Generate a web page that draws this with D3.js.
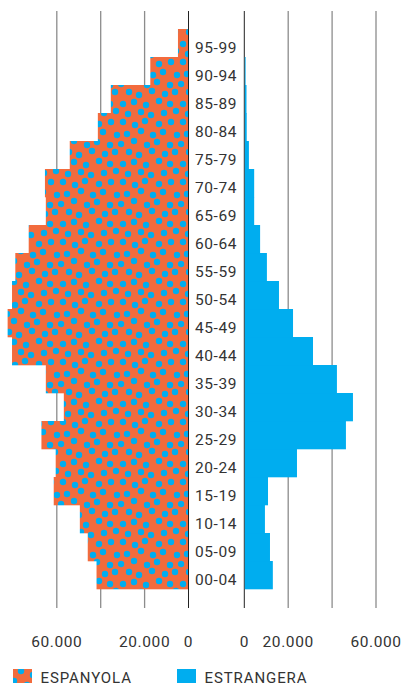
<!DOCTYPE html>
<html>
<head>
<meta charset="utf-8">
<script src="https://cdn.jsdelivr.net/npm/d3@7"></script>
<style>
html,body{margin:0;padding:0;background:#fff;}
svg{display:block;}
text{font-family:Roboto,"Noto Sans",sans-serif;fill:#333;}
</style>
</head>
<body>
<svg id="chart" width="412" height="686"></svg>
<script>
// Data
const ageGroups = ["00-04","05-09","10-14","15-19","20-24","25-29","30-34","35-39","40-44","45-49","50-54","55-59","60-64","65-69","70-74","75-79","80-84","85-89","90-94","95-99"];
const espanyola = [41900,45900,49500,61400,60500,67000,56800,65000,80400,82400,80400,78900,72800,65000,65400,54100,41300,35400,17400,4800];
const estrangera = [13000,11700,9400,10800,24000,46300,49500,42200,31300,22200,15800,10300,7200,4500,4500,2100,1100,1000,600,100];
const gridValues = [0,20000,40000,60000];
const labelValues = [0,20000,60000];
const seriesNames = ["ESPANYOLA","ESTRANGERA"];
// pattern dot offsets inside a 60x60 tile (fixed, hand-placed)
const dotPositions = [[3,2],[15,5],[25,1],[39,4],[51,2],
  [7,14],[21,11],[33,15],[43,12],[57,15],
  [1,24],[14,21],[27,25],[37,22],[50,25],
  [9,32],[19,35],[32,31],[45,34],[55,32],
  [3,44],[14,42],[26,45],[39,41],[50,44],
  [8,54],[21,52],[31,55],[44,53],[56,51]];

const orange = "#F26B3D", blue = "#00ADEF";
const svg = d3.select("#chart");
const fmt = d3.formatLocale({decimal:",",thousands:".",grouping:[3],currency:["","€"]}).format(",");

const T = 60;
const defs = svg.append("defs");
const pat = defs.append("pattern").attr("id","dots").attr("patternUnits","userSpaceOnUse")
  .attr("width",T).attr("height",T);
pat.append("rect").attr("width",T).attr("height",T).attr("fill",orange);
[[0,0],[-T,0],[T,0],[0,-T],[0,T]].forEach(o=>{
  pat.selectAll(null).data(dotPositions).join("circle")
    .attr("cx",d=>d[0]+o[0]).attr("cy",d=>d[1]+o[1]).attr("r",3.2).attr("fill",blue);
});

const y = d3.scaleBand().domain(ageGroups.slice().reverse()).range([29,589]).padding(0);
const xL = d3.scaleLinear().domain([0,60000]).range([188.5,56.8]);
const xR = d3.scaleLinear().domain([0,60000]).range([244.3,376]);
const gTop = 11, gBot = 608;

// grid lines
function grid(scale){
  svg.append("g").selectAll("line").data(gridValues).join("line")
    .attr("x1",d=>scale(d)).attr("x2",d=>scale(d))
    .attr("y1",gTop).attr("y2",gBot)
    .attr("stroke",d=>d===0?"#222":"#8c8c8c").attr("stroke-width",d=>d===0?1:1.3);
}
grid(xL); grid(xR);

// bars
svg.append("g").selectAll("rect").data(ageGroups).join("rect")
  .attr("x",(d,i)=>xL(espanyola[i])).attr("width",(d,i)=>xL(0)-xL(espanyola[i])-0.5)
  .attr("y",d=>y(d)).attr("height",y.bandwidth()+0.3)
  .attr("fill","url(#dots)");
svg.append("g").selectAll("rect").data(ageGroups).join("rect")
  .attr("x",xR(0)+0.5).attr("width",(d,i)=>Math.max(0,xR(estrangera[i])-xR(0)-0.5))
  .attr("y",d=>y(d)).attr("height",y.bandwidth()+0.3)
  .attr("fill",blue);

// age labels
svg.append("g").selectAll("text").data(ageGroups).join("text")
  .attr("x",216).attr("y",d=>y(d)+y.bandwidth()/2+9.7)
  .attr("text-anchor","middle").attr("font-size",15.5).attr("letter-spacing",0.6)
  .text(d=>d);

// tick labels
function tickLabels(scale){
  svg.append("g").selectAll("text").data(labelValues).join("text")
    .attr("x",d=>scale(d)).attr("y",647)
    .attr("text-anchor","middle").attr("font-size",15.5).attr("letter-spacing",0.6)
    .text(d=>fmt(d));
}
tickLabels(xL); tickLabels(xR);

// legend
const leg = [{x:13,fill:"url(#dots)"},{x:177,fill:blue}];
leg.forEach((l,i)=>{
  svg.append("rect").attr("x",l.x).attr("y",669).attr("width",19).attr("height",14).attr("fill",l.fill);
  svg.append("text").attr("x",l.x+27.5).attr("y",683).attr("font-size",15).attr("letter-spacing",0.9)
    .text(seriesNames[i]);
});
</script>
</body>
</html>
